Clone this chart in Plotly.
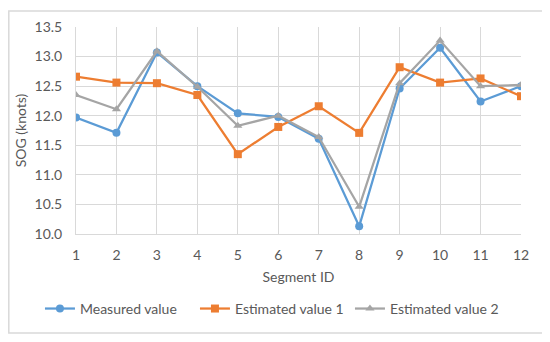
import plotly.graph_objects as go

segments = [1, 2, 3, 4, 5, 6, 7, 8, 9, 10, 11, 12]
measured = [11.97, 11.71, 13.07, 12.50, 12.04, 11.98, 11.61, 10.13, 12.46, 13.15, 12.24, 12.50]
estimated1 = [12.66, 12.56, 12.55, 12.35, 11.35, 11.81, 12.16, 11.71, 12.82, 12.56, 12.63, 12.33]
estimated2 = [12.35, 12.11, 13.09, 12.49, 11.83, 12.00, 11.64, 10.46, 12.55, 13.27, 12.50, 12.52]
y_ticks = [10.0, 10.5, 11.0, 11.5, 12.0, 12.5, 13.0, 13.5]

FONT = "Lato"
GRAY_TXT = "#595959"

fig = go.Figure()
series = [
    ("Measured value", measured, "#5B9BD5", "circle", 8),
    ("Estimated value 1", estimated1, "#ED7D31", "square", 8),
    ("Estimated value 2", estimated2, "#A5A5A5", "triangle-up", 8),
]
for name, vals, color, sym, size in series:
    fig.add_trace(go.Scatter(
        x=segments, y=vals, name=name, mode="lines+markers",
        line=dict(color=color, width=2.25),
        marker=dict(symbol=sym, size=size, color=color),
    ))

# the page body has an 8px margin, so the figure is 8px smaller
fig.update_layout(
    width=542, height=334,
    margin=dict(l=68, r=29, t=19, b=108, autoexpand=False),
    paper_bgcolor="white", plot_bgcolor="white",
    font=dict(family=FONT, color=GRAY_TXT, size=12),
    showlegend=True,
    legend=dict(orientation="h", x=-0.081, xanchor="left", y=-0.362, yanchor="middle",
                font=dict(size=14, color=GRAY_TXT), entrywidth=110, traceorder="normal"),
)
# chart-area border
fig.add_shape(type="rect", xref="paper", yref="paper",
              x0=-0.151, x1=1.049, y0=-0.478, y1=1.077,
              line=dict(color="#D9D9D9", width=1.5))
fig.update_xaxes(
    range=[1, 12], tickvals=segments, ticktext=[str(s) for s in segments],
    showgrid=True, gridcolor="#D9D9D9", gridwidth=1,
    showline=True, linecolor="#D9D9D9", zeroline=False, automargin=False,
    ticks="", ticklabelstandoff=8,
    tickfont=dict(size=14, color=GRAY_TXT),
    title=dict(text="Segment ID", font=dict(size=14, color=GRAY_TXT), standoff=10),
)
fig.update_yaxes(
    range=[10.0, 13.5], tickvals=y_ticks, ticktext=[f"{v:.1f}" for v in y_ticks],
    showgrid=True, gridcolor="#D9D9D9", gridwidth=1,
    showline=True, linecolor="#D9D9D9", zeroline=False, automargin=False,
    ticks="", ticklabelstandoff=10,
    tickfont=dict(size=14, color=GRAY_TXT),
    title=dict(text="SOG (knots)", font=dict(size=14, color=GRAY_TXT), standoff=4),
)

fig.write_html("out.html")
